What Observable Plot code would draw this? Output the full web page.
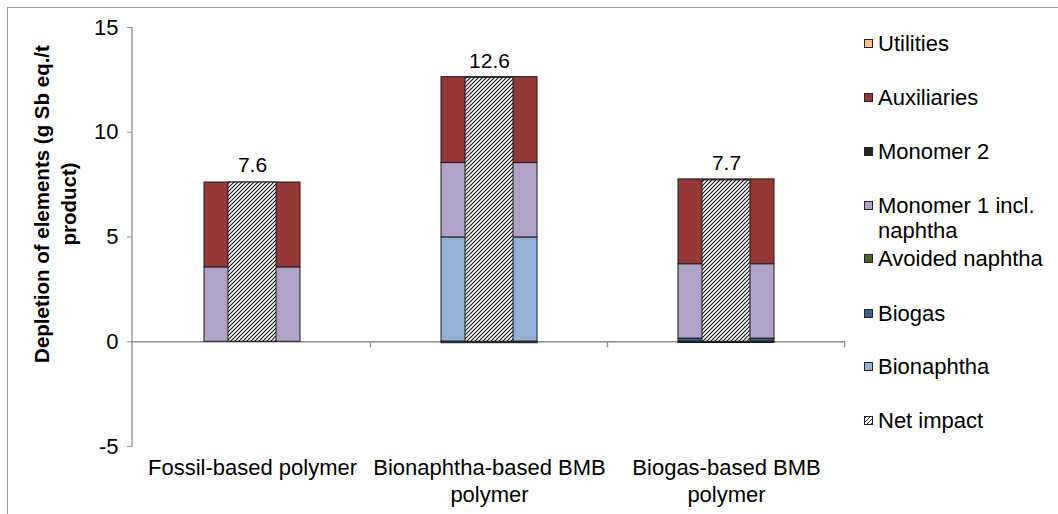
<!DOCTYPE html>
<html>
<head>
<meta charset="utf-8">
<script src="https://cdn.jsdelivr.net/npm/d3@7"></script>
<script src="https://cdn.jsdelivr.net/npm/@observablehq/plot@0.6"></script>
<style>
  html, body { margin: 0; padding: 0; background: #fff; }
  body { font-family: "Liberation Sans", Arial, sans-serif; color: #000; }
  #wrap { position: relative; width: 1058px; height: 514px; overflow: hidden; }
  #outline { position: absolute; left: 7px; top: 7px; width: 1200px; height: 700px;
             border-left: 1px solid #9a9a9a; border-top: 1px solid #9a9a9a; pointer-events: none; }
  #ytitle { position: absolute; left: 55px; top: 204px; transform: translate(-50%, -50%) rotate(-90deg);
            white-space: nowrap; text-align: center; font-weight: bold; font-size: 20.5px; line-height: 27px; }
  #legend { position: absolute; left: 0; top: 0; width: 1058px; height: 514px; }
  .item { position: absolute; left: 864px; display: flex; align-items: flex-start; white-space: nowrap;
          font-size: 22px; line-height: 25px; }
  .sw { width: 9px; height: 9px; border: 1px solid #222; margin: 8px 5px 0 0; flex: none; box-sizing: border-box; }
</style>
</head>
<body>
<div id="wrap">
  <div id="chart"></div>
  <div id="ytitle">Depletion of elements (g Sb eq./t<br>product)</div>
  <div id="legend"></div>
  <div id="outline"></div>
</div>
<script>
// Product systems compared
const categories = ["Fossil-based polymer", "Bionaphtha-based BMB polymer", "Biogas-based BMB polymer"];
const categoryLabels = ["Fossil-based polymer", "Bionaphtha-based BMB\npolymer", "Biogas-based BMB\npolymer"];

// Contributions (g Sb eq./t product), listed bottom-to-top of each stack
const bionaphtha     = [0,    4.98, 0];
const biogas         = [0,    0,    0.15];
const avoidedNaphtha = [0,   -0.07, -0.06];
const monomer1       = [3.55, 3.55, 3.55];
const monomer2       = [0,    0,    0];
const auxiliaries    = [4.05, 4.1,  4.05];
const utilities      = [0,    0,    0];
const netImpact      = [7.6,  12.6, 7.7];

const seriesNames  = ["Bionaphtha", "Biogas", "Avoided naphtha", "Monomer 1 incl. naphtha", "Monomer 2", "Auxiliaries", "Utilities"];
const seriesValues = [bionaphtha, biogas, avoidedNaphtha, monomer1, monomer2, auxiliaries, utilities];
const seriesColors = ["#95b3d7", "#376092", "#4f6228", "#b3a2c7", "#262626", "#953735", "#fac090"];

const yTicks = [-5, 0, 5, 10, 15];

// Long table for the stacked bars (zero contributions are skipped)
const rows = [];
seriesNames.forEach((s, k) => {
  categories.forEach((c, i) => {
    const v = seriesValues[k][i];
    if (v !== 0) rows.push({category: c, series: s, value: v});
  });
});
const netRows = categories.map((c, i) => ({category: c, value: netImpact[i]}));

const plot = Plot.plot({
  width: 1058,
  height: 514,
  marginLeft: 132,
  marginRight: 213,
  marginTop: 27,
  marginBottom: 68,
  style: {fontFamily: "'Liberation Sans', Arial, sans-serif", fontSize: "22px", color: "#000", background: "transparent", overflow: "visible"},
  x: {domain: categories, paddingInner: 0.596, paddingOuter: 0.298, axis: null},
  y: {domain: [-5, 15], axis: null},
  color: {domain: seriesNames, range: seriesColors},
  marks: [
    Plot.ruleY([0], {stroke: "#8c8c8c", strokeWidth: 1.3}),
    Plot.axisY({ticks: yTicks, tickFormat: d => String(d), tickSize: 5, tickPadding: 9,
      stroke: "#8c8c8c", fill: "#000", fontSize: 22, label: null}),
    Plot.barY(rows, Plot.stackY({x: "category", y: "value", fill: "series", stroke: "#1a1a1a", strokeWidth: 1, order: null})),
    Plot.barY(netRows, {x: "category", y: "value", fill: "url(#hatch)", stroke: "#1a1a1a", strokeWidth: 1, insetLeft: 24, insetRight: 24}),
    Plot.text(netRows, {x: "category", y: "value", text: d => d.value.toFixed(1), dy: -17, fontSize: 21}),
    Plot.text(categories, {x: d => d, frameAnchor: "bottom", lineAnchor: "top", dy: 10,
      text: (d, i) => categoryLabels[i], fontSize: 22, lineHeight: 1.2})
  ]
});
document.getElementById("chart").appendChild(plot);

// Hatch pattern for the net impact bars
const svg = d3.select(plot);
const defs = svg.insert("defs", ":first-child");
const pat = defs.append("pattern").attr("id", "hatch").attr("patternUnits", "userSpaceOnUse")
  .attr("width", 4).attr("height", 4);
pat.append("rect").attr("width", 4).attr("height", 4).attr("fill", "#fff");
pat.append("path").attr("d", "M-1,1L1,-1M0,4L4,0M3,5L5,3").attr("stroke", "#111").attr("stroke-width", 1.1);

// Axis line and category boundary ticks, placed from the plot's own scales
const xs = plot.scale("x"), ys = plot.scale("y");
const y0 = ys.apply(0);
svg.append("line").attr("x1", 132).attr("x2", 132)
  .attr("y1", ys.apply(yTicks[0])).attr("y2", ys.apply(yTicks[yTicks.length - 1]))
  .attr("stroke", "#8c8c8c").attr("stroke-width", 1.3);
categories.forEach(c => {
  const bx = xs.apply(c) + xs.bandwidth / 2 + xs.step / 2;
  svg.append("line").attr("x1", bx).attr("x2", bx).attr("y1", y0).attr("y2", y0 + 6)
    .attr("stroke", "#8c8c8c").attr("stroke-width", 1.3);
});

// Legend, listed top-down in reverse stacking order
const legendTops = [31, 85, 139, 193, 246, 301, 354, 408];
const legendEntries = seriesNames.map((s, k) => ({name: s, color: seriesColors[k]})).reverse();
legendEntries.push({name: "Net impact", color: null});
const legend = d3.select("#legend");
legendEntries.forEach((e, i) => {
  const item = legend.append("div").attr("class", "item").style("top", legendTops[i] + "px");
  const sw = item.append("div").attr("class", "sw");
  if (e.color) sw.style("background", e.color);
  else sw.style("background", "repeating-linear-gradient(-45deg, #222 0 1px, #fff 1px 3px)");
  item.append("div").html(e.name === "Monomer 1 incl. naphtha" ? "Monomer 1 incl.<br>naphtha" : e.name);
});
</script>
</body>
</html>
